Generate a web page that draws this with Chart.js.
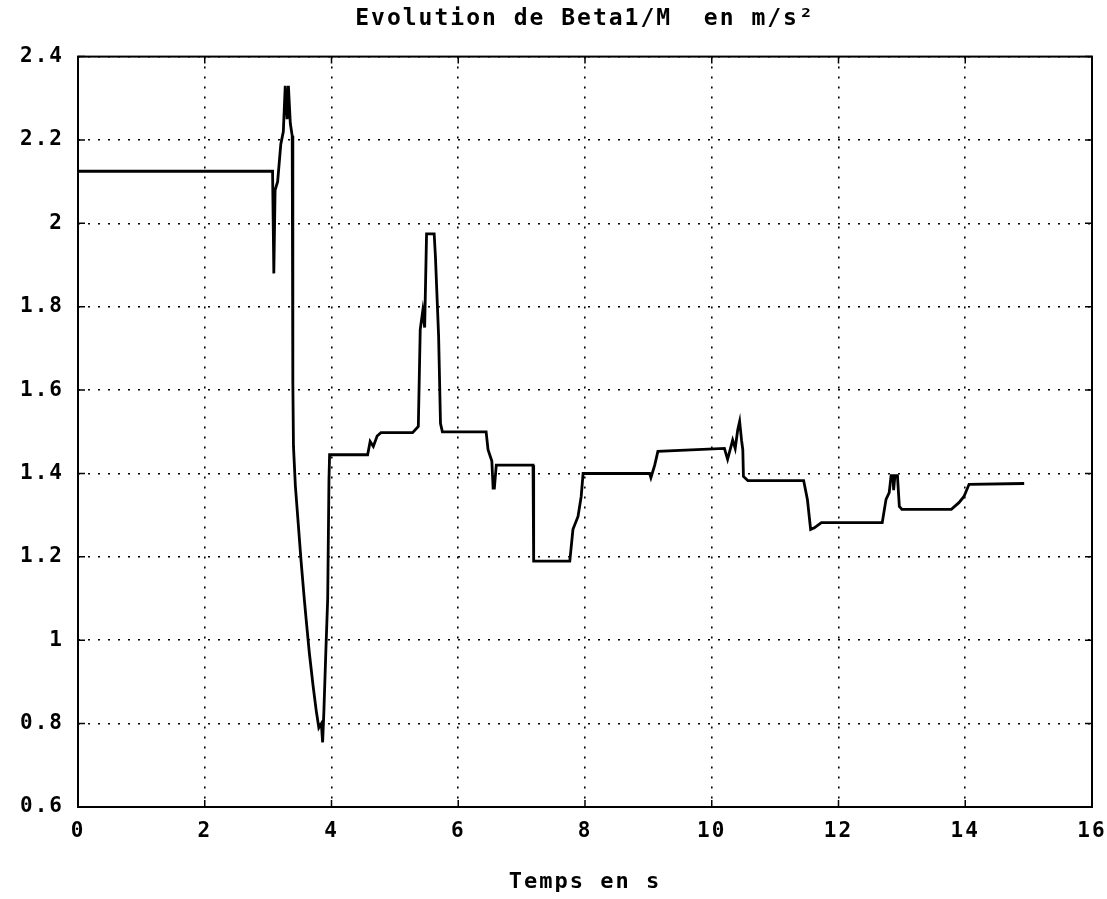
<!DOCTYPE html>
<html>
<head>
<meta charset="utf-8">
<script src="https://cdn.jsdelivr.net/npm/chart.js@4/dist/chart.umd.min.js"></script>
<style>
  html, body { margin: 0; padding: 0; background: #fff; }
  #wrap { width: 1107px; height: 899px; }
</style>
</head>
<body>
<div id="wrap"><canvas id="betaChart"></canvas></div>
<script>
// Temps (s) et Beta1/M (m/s²)
const tempsS = [
  0, 3.07, 3.09, 3.11, 3.15, 3.20, 3.24, 3.27, 3.30, 3.32, 3.35, 3.38,
  3.39, 3.40, 3.43, 3.52, 3.57, 3.60, 3.65, 3.71, 3.76, 3.80, 3.84, 3.86,
  3.88, 3.91, 3.94, 3.96, 3.97, 4.57, 4.61, 4.66, 4.72, 4.78, 5.28, 5.37,
  5.40, 5.44, 5.47, 5.50, 5.62, 5.64, 5.69, 5.72, 5.75, 6.44, 6.47, 6.53,
  6.55, 6.57, 6.60, 7.18, 7.19, 7.76, 7.81, 7.89, 7.94, 7.97, 9.02, 9.04,
  9.10, 9.15, 10.20, 10.25, 10.33, 10.37, 10.41, 10.44, 10.47, 10.49, 10.50, 10.57,
  11.45, 11.51, 11.56, 11.62, 11.65, 11.73, 12.69, 12.75, 12.80, 12.83, 12.86, 12.87,
  12.89, 12.93, 12.96, 13.00, 13.78, 13.90, 13.98, 14.06, 14.93
];
const beta1M = [
  2.125, 2.125, 1.88, 2.08, 2.10, 2.19, 2.22, 2.33, 2.25, 2.33, 2.24, 2.21,
  1.62, 1.465, 1.37, 1.19, 1.10, 1.05, 0.97, 0.89, 0.83, 0.79, 0.80, 0.755,
  0.83, 0.97, 1.10, 1.385, 1.445, 1.445, 1.477, 1.465, 1.49, 1.498, 1.498, 1.513,
  1.745, 1.79, 1.75, 1.975, 1.975, 1.92, 1.73, 1.52, 1.50, 1.50, 1.457, 1.43,
  1.365, 1.365, 1.42, 1.42, 1.19, 1.19, 1.266, 1.297, 1.345, 1.40, 1.40, 1.39,
  1.42, 1.453, 1.46, 1.434, 1.48, 1.46, 1.505, 1.525, 1.48, 1.457, 1.393, 1.383,
  1.383, 1.337, 1.266, 1.27, 1.273, 1.282, 1.282, 1.338, 1.354, 1.395, 1.395, 1.36,
  1.395, 1.395, 1.321, 1.314, 1.314, 1.33, 1.345, 1.374, 1.376
];

// Graduations
const xTicks = [0, 2, 4, 6, 8, 10, 12, 14, 16];
const yTicks = [0.6, 0.8, 1, 1.2, 1.4, 1.6, 1.8, 2, 2.2, 2.4];

const FONT = "'DejaVu Sans Mono', 'Liberation Mono', monospace";

const points = tempsS.map((t, i) => ({ x: t, y: beta1M[i] }));

// Texte plus espacé, comme la police du tracé d'origine
const spacingPlugin = {
  id: 'spacing',
  beforeLayout(chart) { chart.ctx.letterSpacing = '2px'; },
  beforeDraw(chart) { chart.ctx.letterSpacing = '2px'; }
};

// Cadre noir autour de la zone de tracé + petites graduations
const framePlugin = {
  id: 'frame',
  afterDatasetsDraw(chart) {
    const { ctx, chartArea: a, scales } = chart;
    ctx.save();
    ctx.strokeStyle = '#000';
    ctx.lineWidth = 2;
    ctx.strokeRect(a.left, a.top, a.right - a.left, a.bottom - a.top);
    ctx.lineWidth = 1.5;
    ctx.beginPath();
    yTicks.forEach(v => {
      const y = scales.y.getPixelForValue(v);
      ctx.moveTo(a.left, y); ctx.lineTo(a.left + 7, y);
      ctx.moveTo(a.right, y); ctx.lineTo(a.right - 7, y);
    });
    xTicks.forEach(v => {
      const x = scales.x.getPixelForValue(v);
      ctx.moveTo(x, a.bottom); ctx.lineTo(x, a.bottom - 7);
      ctx.moveTo(x, a.top); ctx.lineTo(x, a.top + 7);
    });
    ctx.stroke();
    ctx.restore();
  }
};

const ctx = document.getElementById('betaChart').getContext('2d');
const betaChart = new Chart(ctx, {
  type: 'line',
  data: {
    datasets: [{
      data: points,
      borderColor: '#000',
      borderWidth: 2.8,
      pointRadius: 0,
      tension: 0,
      fill: false
    }]
  },
  options: {
    responsive: true,
    maintainAspectRatio: false,
    animation: false,
    layout: { padding: { left: 0, right: 15, top: 0, bottom: 4 } },
    plugins: {
      legend: { display: false },
      tooltip: { enabled: false },
      title: {
        display: true,
        fullSize: false,
        text: 'Evolution de Beta1/M  en m/s²',
        color: '#000',
        font: { family: FONT, size: 23, weight: 'bold' },
        padding: { top: 5, bottom: 24 }
      }
    },
    scales: {
      x: {
        type: 'linear',
        min: 0,
        max: 16,
        afterBuildTicks: (scale) => { scale.ticks = xTicks.map(v => ({ value: v })); },
        afterFit: (scale) => {
          scale.height = 88;
          scale.paddingLeft = 0;
          scale.paddingRight = 0;
        },
        ticks: {
          color: '#000',
          padding: 12,
          maxRotation: 0,
          font: { family: FONT, size: 21, weight: 'bold' },
          callback: (v) => String(v)
        },
        grid: { color: '#000', lineWidth: 1.6, drawTicks: false },
        border: { display: false, dash: [2, 8] },
        title: {
          display: true,
          text: 'Temps en s',
          color: '#000',
          font: { family: FONT, size: 22, weight: 'bold' },
          padding: { top: 0, bottom: 0 }
        }
      },
      y: {
        type: 'linear',
        min: 0.6,
        max: 2.4,
        afterBuildTicks: (scale) => { scale.ticks = yTicks.map(v => ({ value: v })); },
        afterFit: (scale) => { scale.width = 78; },
        ticks: {
          color: '#000',
          padding: 14,
          font: { family: FONT, size: 21, weight: 'bold' },
          callback: (v) => String(Math.round(v * 10) / 10)
        },
        grid: { color: '#000', lineWidth: 1.6, drawTicks: false },
        border: { display: false, dash: [2, 8] }
      }
    }
  },
  plugins: [spacingPlugin, framePlugin]
});
</script>
</body>
</html>
